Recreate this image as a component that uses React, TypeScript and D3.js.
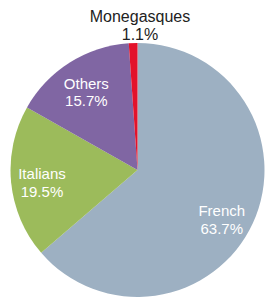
import React from "react";
import * as d3 from "d3";

const categories = ["French", "Italians", "Others", "Monegasques"];
const values = [63.7, 19.5, 15.7, 1.1];
const labels = ["63.7%", "19.5%", "15.7%", "1.1%"];
const colors = ["#9db0c2", "#9cbb5b", "#8066a3", "#e3122b"];

const W = 266;
const H = 298;
const CX = 137.5;
const CY = 170;
const R = 127;
const LABEL_R = 96;

export default function App() {
  const pie = d3.pie<number>().sort(null).value((d) => d);
  const arcs = pie(values);
  const arc = d3.arc<d3.PieArcDatum<number>>().innerRadius(0).outerRadius(R);
  const labelArc = d3
    .arc<d3.PieArcDatum<number>>()
    .innerRadius(LABEL_R)
    .outerRadius(LABEL_R);
  const outerArc = d3
    .arc<d3.PieArcDatum<number>>()
    .innerRadius(R + 4)
    .outerRadius(R + 4);

  return (
    <svg
      width={W}
      height={H}
      style={{ position: "absolute", left: 0, top: 0 }}
      fontFamily="'Liberation Sans', Arial, sans-serif"
    >
      <rect width={W} height={H} fill="#ffffff" />
      <g transform={`translate(${CX},${CY})`}>
        {arcs.map((a, i) => (
          <path key={categories[i]} d={arc(a) || ""} fill={colors[i]} />
        ))}
        {arcs.map((a, i) => {
          const inside = values[i] > 5;
          if (inside) {
            const [x, y] = labelArc.centroid(a);
            const dx = i === 0 ? -3 : 0;
            const dy = i === 0 ? 6 : 0;
            return (
              <text
                key={"l" + i}
                x={x + dx}
                y={y + dy}
                textAnchor="middle"
                fill="#ffffff"
                fontSize={15}
              >
                <tspan x={x + dx} dy="0">
                  {categories[i]}
                </tspan>
                <tspan x={x + dx} dy="17.5">
                  {labels[i]}
                </tspan>
              </text>
            );
          }
          const [x, y] = outerArc.centroid(a);
          return (
            <text
              key={"l" + i}
              x={x + 7}
              y={y}
              textAnchor="middle"
              fill="#222222"
              fontSize={16}
            >
              <tspan x={x + 7} dy="-17.5">
                {categories[i]}
              </tspan>
              <tspan x={x + 7} dy="18">
                {labels[i]}
              </tspan>
            </text>
          );
        })}
      </g>
    </svg>
  );
}
